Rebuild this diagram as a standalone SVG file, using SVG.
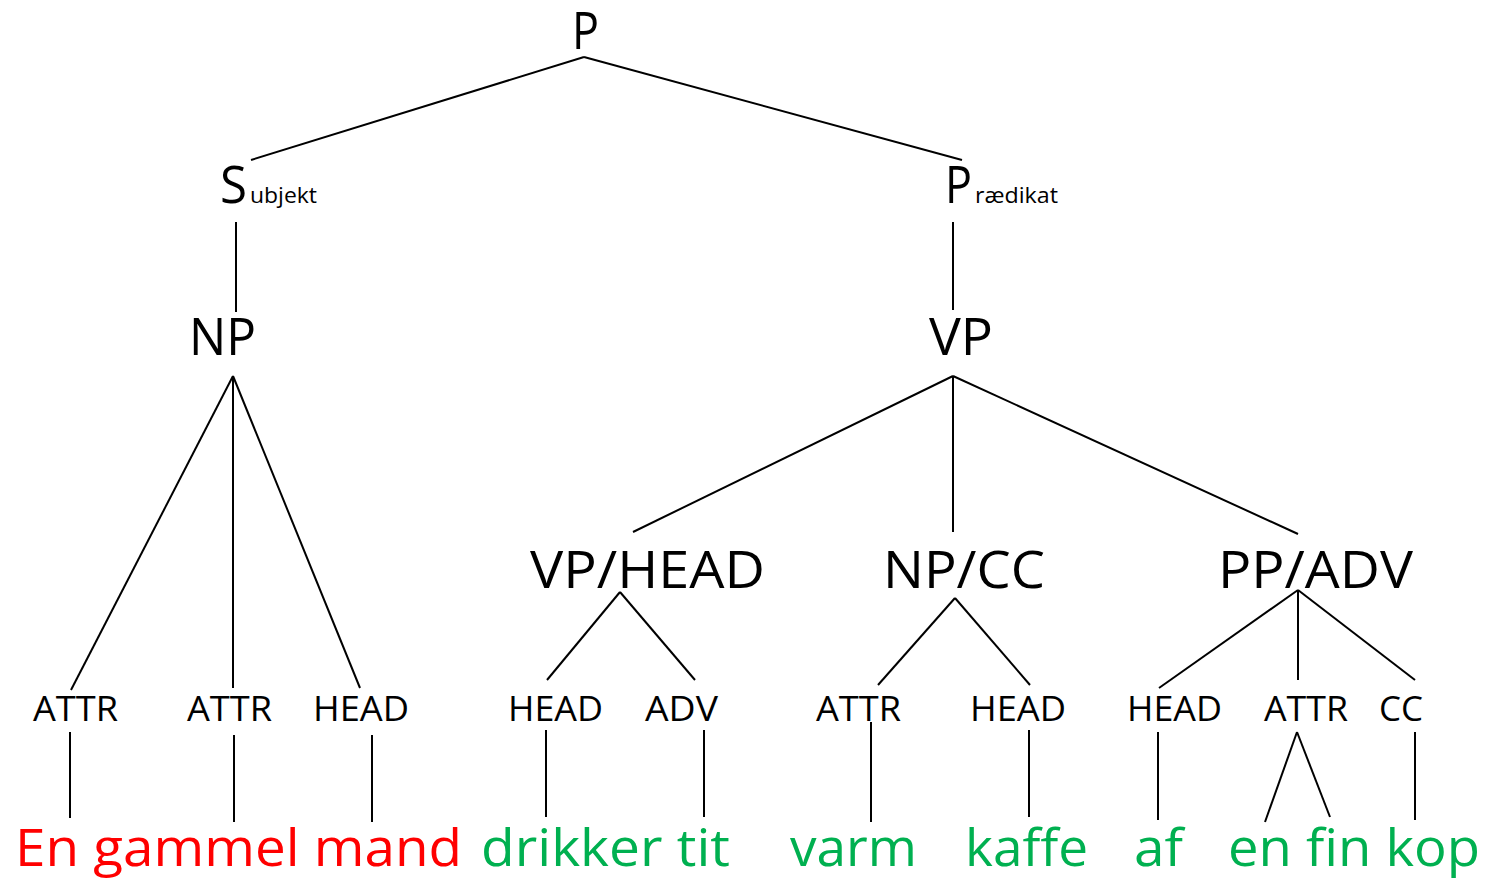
<svg xmlns="http://www.w3.org/2000/svg" width="1491" height="879" viewBox="0 0 1491 879">
<style>
.t{font-family:"Open Sans","Noto Sans","Liberation Sans",sans-serif;fill:#000}
.big{font-size:52px}
.sub{font-size:21px}
.lab{font-size:35px}
.word{font-size:51px}
.red{fill:#FF0000}
.grn{fill:#00B050}
#edges line{stroke:#000;stroke-width:2}
</style>
<rect width="1491" height="879" fill="#fff"/>
<g id="edges">
<line x1="584" y1="57" x2="251" y2="160"/>
<line x1="584" y1="57" x2="962" y2="160"/>
<line x1="236" y1="222" x2="236" y2="312"/>
<line x1="953" y1="222" x2="953" y2="310"/>
<line x1="233" y1="376" x2="71" y2="690"/>
<line x1="233" y1="376" x2="233" y2="688"/>
<line x1="233" y1="376" x2="360" y2="688"/>
<line x1="953" y1="376" x2="633" y2="532"/>
<line x1="953" y1="376" x2="953" y2="532"/>
<line x1="953" y1="376" x2="1298" y2="534"/>
<line x1="620" y1="592" x2="547" y2="680"/>
<line x1="620" y1="592" x2="695" y2="680"/>
<line x1="955" y1="598" x2="878" y2="685"/>
<line x1="955" y1="598" x2="1030" y2="685"/>
<line x1="1298" y1="590" x2="1159" y2="688"/>
<line x1="1298" y1="590" x2="1298" y2="680"/>
<line x1="1298" y1="590" x2="1415" y2="680"/>
<line x1="70" y1="732" x2="70" y2="818"/>
<line x1="234" y1="735" x2="234" y2="822"/>
<line x1="372" y1="735" x2="372" y2="822"/>
<line x1="546" y1="730" x2="546" y2="817"/>
<line x1="704" y1="730" x2="704" y2="817"/>
<line x1="871" y1="722" x2="871" y2="822"/>
<line x1="1029" y1="730" x2="1029" y2="817"/>
<line x1="1158" y1="732" x2="1158" y2="820"/>
<line x1="1297" y1="732" x2="1265" y2="822"/>
<line x1="1297" y1="732" x2="1330" y2="817"/>
<line x1="1415" y1="732" x2="1415" y2="820"/>
</g>
<g id="n-P"><text class="t big" x="572" y="49" textLength="27" lengthAdjust="spacingAndGlyphs">P</text></g>
<g id="n-subjekt"><text class="t big" x="220" y="203" textLength="27" lengthAdjust="spacingAndGlyphs">S</text><text class="t sub" x="250" y="203" textLength="67" lengthAdjust="spacingAndGlyphs">ubjekt</text></g>
<g id="n-praedikat"><text class="t big" x="945" y="203" textLength="27" lengthAdjust="spacingAndGlyphs">P</text><text class="t sub" x="975" y="203" textLength="83" lengthAdjust="spacingAndGlyphs">rædikat</text></g>
<g id="n-NP"><text class="t big" x="189" y="355" textLength="67" lengthAdjust="spacingAndGlyphs">NP</text></g>
<g id="n-VP"><text class="t big" x="929" y="355" textLength="64" lengthAdjust="spacingAndGlyphs">VP</text></g>
<g id="n-VPHEAD"><text class="t big" x="530" y="588" textLength="235" lengthAdjust="spacingAndGlyphs">VP/HEAD</text></g>
<g id="n-NPCC"><text class="t big" x="883" y="588" textLength="162" lengthAdjust="spacingAndGlyphs">NP/CC</text></g>
<g id="n-PPADV"><text class="t big" x="1218" y="588" textLength="195" lengthAdjust="spacingAndGlyphs">PP/ADV</text></g>
<g id="n-attr1"><text class="t lab" x="33" y="721" textLength="85" lengthAdjust="spacingAndGlyphs">ATTR</text></g>
<g id="n-attr2"><text class="t lab" x="187" y="721" textLength="85" lengthAdjust="spacingAndGlyphs">ATTR</text></g>
<g id="n-head1"><text class="t lab" x="313" y="721" textLength="96" lengthAdjust="spacingAndGlyphs">HEAD</text></g>
<g id="n-head2"><text class="t lab" x="508" y="721" textLength="95" lengthAdjust="spacingAndGlyphs">HEAD</text></g>
<g id="n-adv"><text class="t lab" x="645" y="721" textLength="73" lengthAdjust="spacingAndGlyphs">ADV</text></g>
<g id="n-attr3"><text class="t lab" x="816" y="721" textLength="85" lengthAdjust="spacingAndGlyphs">ATTR</text></g>
<g id="n-head3"><text class="t lab" x="970" y="721" textLength="96" lengthAdjust="spacingAndGlyphs">HEAD</text></g>
<g id="n-head4"><text class="t lab" x="1127" y="721" textLength="95" lengthAdjust="spacingAndGlyphs">HEAD</text></g>
<g id="n-attr4"><text class="t lab" x="1264" y="721" textLength="84" lengthAdjust="spacingAndGlyphs">ATTR</text></g>
<g id="n-cc"><text class="t lab" x="1379" y="721" textLength="44" lengthAdjust="spacingAndGlyphs">CC</text></g>
<g id="w-1"><text class="t word red" x="15" y="866" textLength="447" lengthAdjust="spacingAndGlyphs">En gammel mand</text></g>
<g id="w-2"><text class="t word grn" x="481" y="866" textLength="249" lengthAdjust="spacingAndGlyphs">drikker tit</text></g>
<g id="w-3"><text class="t word grn" x="790" y="866" textLength="127" lengthAdjust="spacingAndGlyphs">varm</text></g>
<g id="w-4"><text class="t word grn" x="965" y="866" textLength="123" lengthAdjust="spacingAndGlyphs">kaffe</text></g>
<g id="w-5"><text class="t word grn" x="1134" y="866" textLength="49" lengthAdjust="spacingAndGlyphs">af</text></g>
<g id="w-6"><text class="t word grn" x="1228" y="866" textLength="252" lengthAdjust="spacingAndGlyphs">en fin kop</text></g>
</svg>
